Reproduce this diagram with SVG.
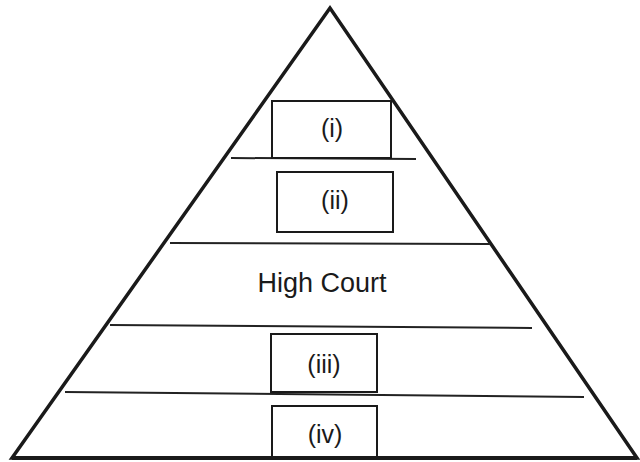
<svg xmlns="http://www.w3.org/2000/svg" width="640" height="462" viewBox="0 0 640 462">
<style>
.tri{fill:none;stroke:#1a1a1a;stroke-width:3.5;stroke-linejoin:miter}
.div{stroke:#222;stroke-width:2;fill:none}
.box{fill:#fff;stroke:#1a1a1a;stroke-width:2}
.lbl{font-family:"Liberation Sans",Arial,sans-serif;font-size:25px;fill:#1a1a1a;text-anchor:middle}
</style>
<rect width="640" height="462" fill="#fff"/>
<g id="pyramid">
<polygon class="tri" points="330,8 12,458 637,458"/>
</g>
<g id="dividers">
<line class="div" x1="231" y1="158" x2="416" y2="159"/>
<line class="div" x1="170" y1="243" x2="490" y2="244"/>
<line class="div" x1="110" y1="325" x2="532" y2="328"/>
<line class="div" x1="65" y1="392" x2="584" y2="397"/>
</g>
<g id="level-i">
<rect class="box" x="272" y="101" width="119" height="57"/>
<text class="lbl" x="332" y="137">(i)</text>
</g>
<g id="level-ii">
<rect class="box" x="277" y="172" width="116" height="60"/>
<text class="lbl" x="335" y="209">(ii)</text>
</g>
<g id="level-high-court">
<text class="lbl" x="322" y="292" style="font-size:27px">High Court</text>
</g>
<g id="level-iii">
<rect class="box" x="271" y="334" width="106" height="58"/>
<text class="lbl" x="324" y="373">(iii)</text>
</g>
<g id="level-iv">
<rect class="box" x="272" y="406" width="105" height="52"/>
<text class="lbl" x="325" y="443">(iv)</text>
</g>
<polyline class="tri" points="12,458 637,458" style="stroke-width:4"/>
</svg>
